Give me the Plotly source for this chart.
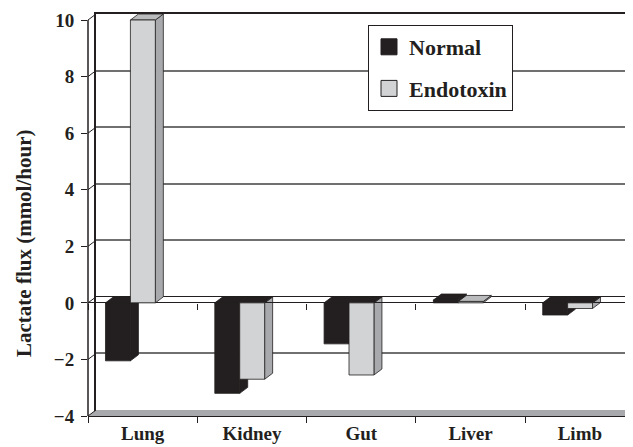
import plotly.graph_objects as go

# data
organs = ["Lung", "Kidney", "Gut", "Liver", "Limb"]
normal = [-2.05, -3.2, -1.45, 0.1, -0.43]
endotoxin = [10.0, -2.7, -2.55, 0.05, -0.2]
y_ticks = [-4, -2, 0, 2, 4, 6, 8, 10]

# styling / geometry (pixels, page body has an 8px margin)
W, H = 625, 439
FRONT_LEFT, FRONT_TOP, FRONT_BOTTOM = 80, 12, 408
DEPTH_X, DEPTH_Y = 8, 6
CAT_W = 109.3
Y_MIN, Y_MAX = -4, 10
FONT = "Liberation Serif, Times New Roman, serif"
DARK = "#231f20"
ENDO_FRONT, ENDO_SIDE, ENDO_TOP = "#d1d3d4", "#a7a9ac", "#b9bbbd"

x_end = -0.5 + (W - FRONT_LEFT) / CAT_W
dx = DEPTH_X / CAT_W
dy = DEPTH_Y * (Y_MAX - Y_MIN) / (FRONT_BOTTOM - FRONT_TOP)

# front plane gets a little head room so the top faces of tall bars are not clipped
front_dom = [1 - FRONT_BOTTOM / H, 1 - (FRONT_TOP - DEPTH_Y) / H]
back_dom = [1 - (FRONT_BOTTOM - DEPTH_Y) / H, 1 - (FRONT_TOP - DEPTH_Y) / H]
zero_pos = front_dom[0] + (0 - Y_MIN) / (Y_MAX + dy - Y_MIN) * (front_dom[1] - front_dom[0])

series = [
    ("Normal", normal, -0.34, 0.228, DARK, DARK, DARK, DARK),
    ("Endotoxin", endotoxin, -0.112, 0.228, ENDO_FRONT, ENDO_SIDE, ENDO_TOP, DARK),
]

fig = go.Figure()
shapes = []


def poly(pts, color):
    path = "M" + " L".join(f"{x},{y}" for x, y in pts) + " Z"
    return dict(type="path", path=path, xref="x2", yref="y2", layer="below",
                fillcolor=color, line=dict(color=DARK, width=0.8))


# back wall subplot needs a trace so its grid gets drawn
fig.add_trace(go.Scatter(x=[0.5], y=[None], xaxis="x", yaxis="y", mode="markers",
                         showlegend=False, hoverinfo="skip"))

# floor and left wall edges
shapes.append(dict(type="path", xref="x2", yref="y2", layer="below",
                   path=f"M-0.5,{Y_MIN} L{-0.5 + dx},{Y_MIN + dy} L{x_end + dx},{Y_MIN + dy} L{x_end},{Y_MIN} Z",
                   fillcolor=ENDO_SIDE, line=dict(width=0)))
for v in y_ticks:
    shapes.append(dict(type="line", xref="x2", yref="y2", layer="below",
                       x0=-0.5, y0=v, x1=-0.5 + dx, y1=v + dy,
                       line=dict(color=DARK, width=1)))
# front value axis line, only over the value range
shapes.append(dict(type="line", xref="x2 domain", yref="y2", layer="above",
                   x0=0, y0=Y_MIN, x1=0, y1=Y_MAX, line=dict(color=DARK, width=1.5)))

for name, vals, off, wid, c_front, c_side, c_top, c_top_neg in series:
    fig.add_trace(go.Bar(
        x=organs, y=vals, base=0, offset=off, width=wid, name=name,
        marker=dict(color=c_front, line=dict(color=DARK, width=0.8)),
        xaxis="x2", yaxis="y2", showlegend=False,
    ))
    for i, v in enumerate(vals):
        xl, xr = i + off, i + off + wid
        lo, hi = min(v, 0), max(v, 0)
        shapes.append(poly([(xr, lo), (xr + dx, lo + dy), (xr + dx, hi + dy), (xr, hi)], c_side))
        shapes.append(poly([(xl, hi), (xl + dx, hi + dy), (xr + dx, hi + dy), (xr, hi)],
                           c_top if v >= 0 else c_top_neg))
    # legend swatch
    fig.add_trace(go.Scatter(
        x=[None], y=[None], mode="markers", name=name, legendgroup=name,
        marker=dict(symbol="square", size=19, color=c_front, line=dict(color=DARK, width=1)),
        xaxis="x2", yaxis="y2",
    ))

# helper trace for the tick row along the zero plane
fig.add_trace(go.Scatter(x=organs, y=[None] * len(organs), xaxis="x3", yaxis="y2",
                         mode="markers", showlegend=False, hoverinfo="skip"))

tick_font = dict(family=FONT, size=19, color=DARK, weight="bold")

fig.update_layout(
    width=W, height=H,
    margin=dict(l=0, r=0, t=0, b=0),
    paper_bgcolor="white", plot_bgcolor="rgba(0,0,0,0)",
    barmode="overlay",
    shapes=shapes,
    showlegend=True,
    legend=dict(x=360 / W, y=1 - 17 / H, xanchor="left", yanchor="top",
                bgcolor="white", bordercolor=DARK, borderwidth=1,
                font=dict(family=FONT, size=22, color=DARK, weight="bold"),
                tracegroupgap=10, itemwidth=30),
    annotations=[dict(text="Lactate flux (mmol/hour)", textangle=-90, showarrow=False,
                      xref="paper", yref="paper", x=16 / W, y=1 - 236 / H,
                      xanchor="center", yanchor="middle",
                      font=dict(family=FONT, size=21, color=DARK, weight="bold"))],
    # back wall
    xaxis=dict(domain=[(FRONT_LEFT + DEPTH_X) / W, 1], range=[0, 1], showgrid=False,
               zeroline=False, showticklabels=False, ticks="", showline=True,
               mirror=True, linecolor=DARK, linewidth=2, automargin=False),
    yaxis=dict(domain=back_dom, range=[Y_MIN, Y_MAX], tickvals=y_ticks, showgrid=True,
               gridcolor="#707070", gridwidth=1.5, zeroline=True, zerolinecolor=DARK,
               zerolinewidth=1, showticklabels=False, ticks="", showline=True,
               linecolor=DARK, linewidth=1.5, automargin=False),
    # front plane
    xaxis2=dict(domain=[FRONT_LEFT / W, 1], anchor="y2", type="category",
                categoryorder="array", categoryarray=organs, range=[-0.5, x_end],
                tickson="boundaries", ticks="outside", ticklen=6, tickcolor=DARK,
                showline=True, linecolor=DARK, linewidth=1, showgrid=False,
                tickfont=tick_font, automargin=False),
    xaxis3=dict(overlaying="x2", anchor="free", position=zero_pos, type="category",
                categoryorder="array", categoryarray=organs, range=[-0.5, x_end],
                tickson="boundaries", ticks="outside", ticklen=6, tickcolor=DARK,
                showticklabels=False, showline=False, showgrid=False, automargin=False),
    yaxis2=dict(domain=front_dom, anchor="x2", range=[Y_MIN, Y_MAX + dy], tickvals=y_ticks,
                ticks="outside", ticklen=6, tickcolor=DARK, showline=False,
                showgrid=False, zeroline=True, zerolinecolor=DARK,
                zerolinewidth=1, tickfont=tick_font, ticklabelstandoff=3, automargin=False),
)

fig.write_html("out.html")
